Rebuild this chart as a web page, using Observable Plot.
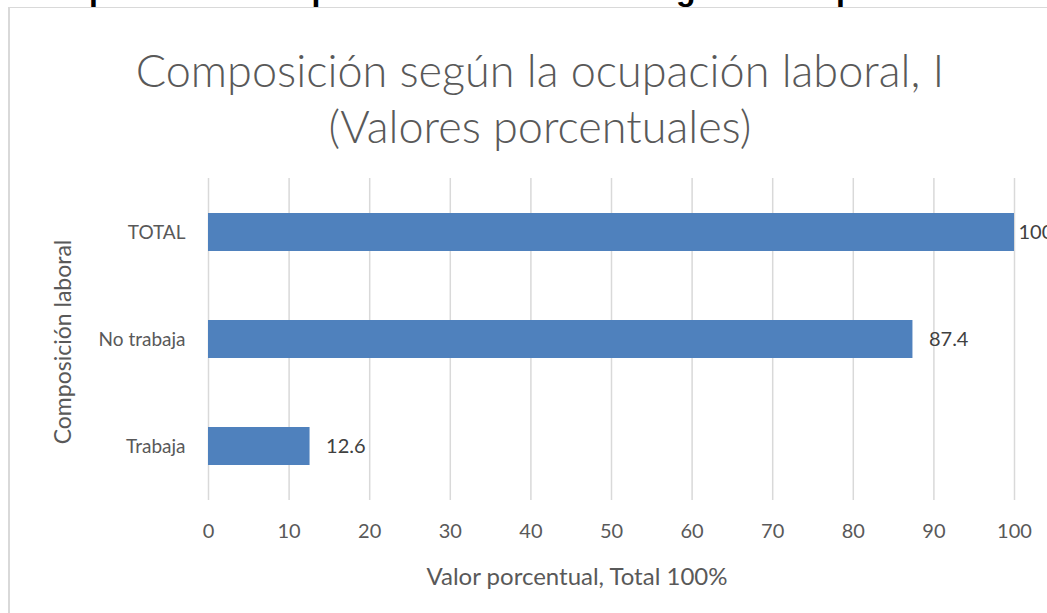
<!DOCTYPE html>
<html>
<head>
<meta charset="utf-8">
<script src="https://cdn.jsdelivr.net/npm/d3@7"></script>
<script src="https://cdn.jsdelivr.net/npm/@observablehq/plot@0.6"></script>
<style>
  html, body { margin: 0; padding: 0; background: #fff; overflow: hidden; }
  #wrap { position: relative; width: 1047px; height: 613px; overflow: hidden; font-family: Lato, "Liberation Sans", sans-serif; }
  #top { position: absolute; left: 18px; top: -29px; font: bold 32px "Liberation Sans", Arial, sans-serif; color: #000; white-space: nowrap; line-height: normal; }
  #frame { position: absolute; left: 8px; top: 7px; width: 1200px; height: 800px; border-left: 2px solid #d9d9d9; border-top: 1px solid #d9d9d9; }
  #title { position: absolute; left: 0; width: 1080px; top: 42px; text-align: center; color: #595959; font-size: 45px; line-height: 56px; font-weight: 300; }
  #xlab { position: absolute; left: 377px; width: 400px; top: 561px; text-align: center; color: #595959; font-size: 24px; white-space: nowrap; }
  #ylab { position: absolute; left: 62px; top: 342px; transform: translate(-50%, -50%) rotate(-90deg); color: #595959; font-size: 23px; white-space: nowrap; }
  #chart { position: absolute; left: 0; top: 0; }
</style>
</head>
<body>
<div id="wrap">
  <div id="top">Composición de la población de estudio según la ocupación laboral</div>
  <div id="frame"></div>
  <div id="title">Composición según la ocupación laboral, I<br>(Valores porcentuales)</div>
  <div id="chart"></div>
  <div id="xlab">Valor porcentual, Total 100%</div>
  <div id="ylab">Composición laboral</div>
</div>
<script>
const categories = ["TOTAL", "No trabaja", "Trabaja"];
const values = [100, 87.4, 12.6];
const xTicks = [0, 10, 20, 30, 40, 50, 60, 70, 80, 90, 100];

const data = categories.map((c, i) => ({ cat: c, value: values[i] }));

const chart = Plot.plot({
  width: 1047,
  height: 613,
  marginLeft: 208,
  marginRight: 33,
  marginTop: 178,
  marginBottom: 113,
  style: { background: "transparent", fontFamily: "Lato, 'Liberation Sans', sans-serif", fontSize: "19px", color: "#595959", overflow: "visible" },
  x: { domain: [0, 100], ticks: xTicks, label: null },
  y: { domain: categories, paddingInner: 0.646, paddingOuter: 0.323, label: null },
  marks: [
    Plot.gridX(xTicks, { stroke: "#d9d9d9", strokeOpacity: 1, strokeWidth: 1.5 }),
    Plot.axisX({ ticks: xTicks, tickSize: 0, tickPadding: 23, fontSize: 20, fill: "#595959", label: null }),
    Plot.axisY({ tickSize: 0, tickPadding: 23, fontSize: 19, fill: "#595959", label: null }),
    Plot.barX(data, { y: "cat", x: "value", fill: "#4f81bd" }),
    Plot.text(data.filter(d => d.value < 100), { y: "cat", x: "value", text: d => d.value.toFixed(1), textAnchor: "start", dx: 16, fill: "#404040", fontSize: 20 }),
    Plot.text(data.filter(d => d.value >= 100), { y: "cat", x: "value", text: d => String(d.value), textAnchor: "start", dx: 4, fill: "#404040", fontSize: 20 })
  ]
});
document.getElementById("chart").appendChild(chart);
</script>
</body>
</html>
